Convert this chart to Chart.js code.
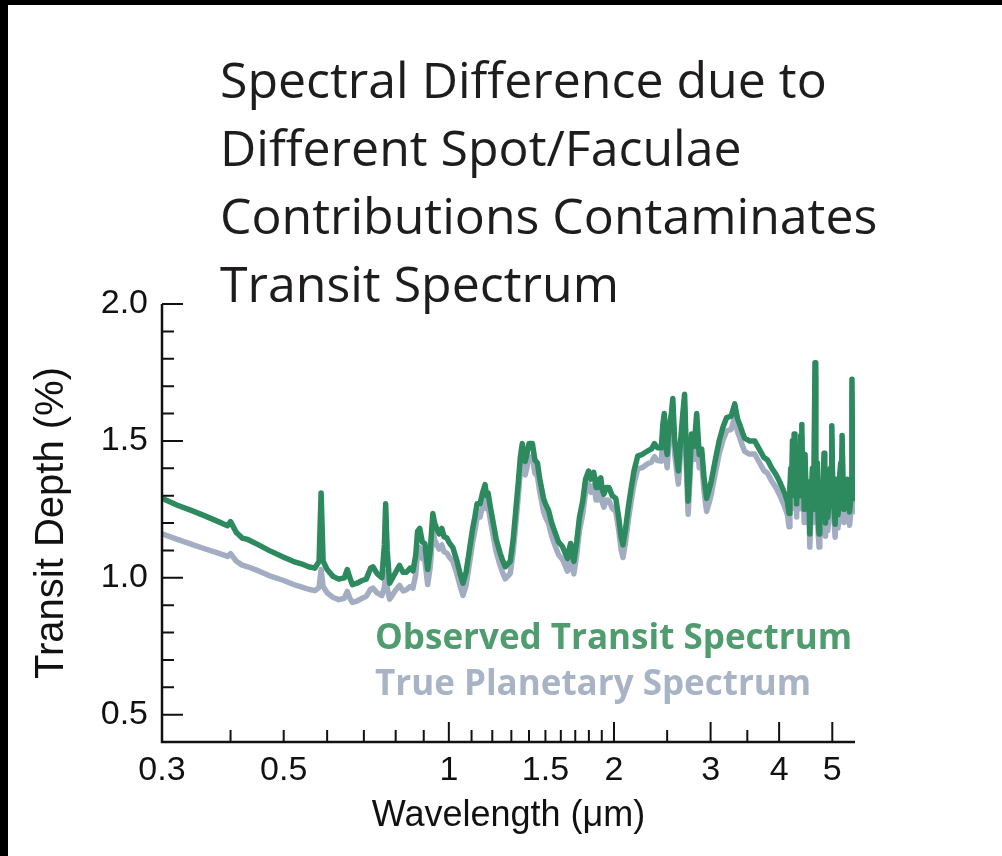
<!DOCTYPE html>
<html>
<head>
<meta charset="utf-8">
<script src="https://cdn.jsdelivr.net/npm/chart.js@4.4.1/dist/chart.umd.min.js"></script>
<style>
    html, body { margin: 0; padding: 0; background: #000; }
    .frame { position: absolute; left: 8px; top: 5px; width: 994px; height: 851px; background: #fff; }
    #chartCanvas { position: absolute; left: 0; top: 0; }
</style>
</head>
<body>
<div class="frame"></div>
<canvas id="chartCanvas" width="1002" height="856"></canvas>
<script>
// wavelength grid (micron) shared by both spectra
const wavelength = [
    0.300, 0.320, 0.340, 0.360, 0.380, 0.395, 0.400, 0.410, 0.420, 0.430,
    0.450, 0.470, 0.500, 0.520, 0.540, 0.555, 0.570, 0.580, 0.585, 0.590,
    0.600, 0.615, 0.630, 0.645, 0.653, 0.660, 0.667, 0.680, 0.695, 0.707,
    0.720, 0.727, 0.740, 0.755, 0.763, 0.767, 0.772, 0.780, 0.790, 0.800,
    0.813, 0.825, 0.837, 0.850, 0.860, 0.870, 0.877, 0.885, 0.895, 0.904,
    0.915, 0.925, 0.935, 0.942, 0.950, 0.960, 0.971, 0.980, 0.992, 1.000,
    1.017, 1.035, 1.050, 1.061, 1.075, 1.090, 1.105, 1.115, 1.126, 1.140,
    1.152, 1.164, 1.172, 1.179, 1.190, 1.205, 1.220, 1.240, 1.255, 1.267,
    1.280, 1.294, 1.310, 1.325, 1.340, 1.350, 1.361, 1.370, 1.378, 1.390,
    1.400, 1.420, 1.435, 1.450, 1.465, 1.475, 1.488, 1.500, 1.520, 1.540,
    1.565, 1.585, 1.610, 1.630, 1.645, 1.655, 1.667, 1.680, 1.690, 1.710,
    1.730, 1.754, 1.775, 1.798, 1.815, 1.837, 1.855, 1.868, 1.880, 1.892,
    1.905, 1.917, 1.935, 1.958, 1.985, 2.015, 2.040, 2.060, 2.077, 2.100,
    2.125, 2.147, 2.175, 2.210, 2.250, 2.310, 2.340, 2.370, 2.400, 2.440,
    2.455, 2.470, 2.480, 2.500, 2.520, 2.545, 2.560, 2.580, 2.620, 2.640,
    2.670, 2.690, 2.710, 2.730, 2.750, 2.770, 2.800, 2.830, 2.860, 2.890,
    2.920, 2.950, 2.980, 3.010, 3.060, 3.110, 3.160, 3.210, 3.270, 3.320,
    3.360, 3.390, 3.430, 3.460, 3.530, 3.610, 3.680, 3.750, 3.810, 3.880,
    3.940, 4.000, 4.050, 4.100,
    4.140, 4.170, 4.185, 4.200, 4.215, 4.230, 4.245, 4.260, 4.275, 4.290,
    4.305, 4.320, 4.335, 4.350, 4.365, 4.380, 4.390, 4.400, 4.415, 4.430,
    4.445, 4.460, 4.480, 4.500, 4.525, 4.550, 4.575, 4.600, 4.625, 4.650,
    4.665, 4.680, 4.695, 4.710, 4.730, 4.745, 4.760, 4.780, 4.800, 4.815,
    4.830, 4.845, 4.860, 4.875, 4.890, 4.905, 4.920, 4.940, 4.960, 4.975,
    4.990, 5.005, 5.020, 5.040, 5.060, 5.080, 5.100, 5.120, 5.140, 5.160,
    5.180, 5.195, 5.210, 5.230, 5.250, 5.275, 5.300, 5.325, 5.350, 5.375,
    5.400, 5.415, 5.430, 5.445, 5.460, 5.475, 5.490
];

// observed transit depth (%), spot/faculae contaminated
const observedDepth = [
    1.290, 1.265, 1.245, 1.225, 1.205, 1.190, 1.205, 1.165, 1.145, 1.140,
    1.120, 1.100, 1.075, 1.060, 1.050, 1.040, 1.035, 1.060, 1.310, 1.060,
    1.030, 1.005, 0.995, 1.000, 1.030, 1.000, 0.975, 0.980, 0.990, 0.995,
    1.035, 1.040, 1.015, 1.000, 1.120, 1.270, 1.100, 0.980, 1.000, 1.020,
    1.045, 1.020, 1.020, 1.035, 1.025, 1.080, 1.170, 1.180, 1.130, 1.125,
    1.030, 1.100, 1.235, 1.200, 1.180, 1.160, 1.180, 1.150, 1.145, 1.130,
    1.110, 1.060, 1.010, 0.980, 1.020, 1.100, 1.180, 1.220, 1.270, 1.270,
    1.310, 1.340, 1.300, 1.310, 1.260, 1.200, 1.140, 1.090, 1.060, 1.040,
    1.050, 1.060, 1.140, 1.250, 1.360, 1.440, 1.490, 1.440, 1.425, 1.460,
    1.490, 1.490, 1.430, 1.420, 1.360, 1.330, 1.290, 1.270, 1.245, 1.200,
    1.160, 1.130, 1.115, 1.090, 1.070, 1.100, 1.125, 1.080, 1.060, 1.130,
    1.220, 1.280, 1.360, 1.390, 1.360, 1.385, 1.330, 1.330, 1.360, 1.365,
    1.320, 1.305, 1.330, 1.330, 1.300, 1.290, 1.220, 1.150, 1.120, 1.180,
    1.260, 1.320, 1.390, 1.445, 1.450, 1.465, 1.470, 1.490, 1.475, 1.475,
    1.560, 1.600, 1.500, 1.450, 1.550, 1.600, 1.655, 1.500, 1.390, 1.480,
    1.600, 1.670, 1.450, 1.280, 1.400, 1.525, 1.480, 1.600, 1.450, 1.470,
    1.360, 1.290, 1.320, 1.355, 1.430, 1.500, 1.550, 1.585, 1.590, 1.635,
    1.580, 1.560, 1.530, 1.510, 1.500, 1.500, 1.470, 1.440, 1.430, 1.400,
    1.380, 1.355, 1.330, 1.305,
    1.280, 1.235, 1.330, 1.400, 1.300, 1.500, 1.360, 1.525, 1.330, 1.380,
    1.270, 1.460, 1.320, 1.300, 1.420, 1.520, 1.400, 1.560, 1.300, 1.340,
    1.250, 1.450, 1.300, 1.250, 1.350, 1.160, 1.300, 1.400, 1.250, 1.785,
    1.400, 1.300, 1.420, 1.220, 1.160, 1.300, 1.350, 1.220, 1.280, 1.380,
    1.455, 1.300, 1.200, 1.320, 1.360, 1.220, 1.250, 1.340, 1.400, 1.300,
    1.555, 1.380, 1.300, 1.250, 1.195, 1.360, 1.330, 1.230, 1.260, 1.380,
    1.420, 1.300, 1.520, 1.350, 1.250, 1.320, 1.290, 1.360, 1.300, 1.240,
    1.280, 1.350, 1.725, 1.400, 1.500, 1.300, 1.280
];

// true planetary transit depth (%)
const trueDepth = [
    1.160, 1.140, 1.122, 1.105, 1.090, 1.078, 1.088, 1.060, 1.046, 1.040,
    1.025, 1.008, 0.990, 0.976, 0.966, 0.958, 0.953, 0.965, 1.030, 0.968,
    0.945, 0.928, 0.920, 0.925, 0.950, 0.926, 0.910, 0.915, 0.925, 0.932,
    0.958, 0.962, 0.945, 0.935, 0.965, 1.020, 0.962, 0.922, 0.938, 0.955,
    0.972, 0.952, 0.956, 0.968, 0.962, 1.010, 1.090, 1.110, 1.070, 1.065,
    0.975, 1.040, 1.170, 1.140, 1.122, 1.105, 1.120, 1.095, 1.090, 1.078,
    1.060, 1.012, 0.965, 0.935, 0.972, 1.050, 1.130, 1.170, 1.220, 1.222,
    1.260, 1.290, 1.252, 1.262, 1.212, 1.152, 1.094, 1.045, 1.015, 0.996,
    1.005, 1.016, 1.094, 1.200, 1.310, 1.388, 1.440, 1.390, 1.376, 1.410,
    1.440, 1.442, 1.382, 1.372, 1.312, 1.282, 1.242, 1.222, 1.198, 1.152,
    1.112, 1.084, 1.068, 1.044, 1.024, 1.052, 1.078, 1.034, 1.014, 1.082,
    1.172, 1.232, 1.312, 1.342, 1.312, 1.338, 1.284, 1.284, 1.312, 1.318,
    1.274, 1.258, 1.284, 1.282, 1.254, 1.242, 1.174, 1.104, 1.074, 1.132,
    1.212, 1.272, 1.342, 1.398, 1.402, 1.418, 1.422, 1.442, 1.428, 1.426,
    1.510, 1.550, 1.452, 1.402, 1.500, 1.552, 1.605, 1.452, 1.342, 1.432,
    1.552, 1.620, 1.402, 1.232, 1.352, 1.476, 1.432, 1.552, 1.402, 1.422,
    1.312, 1.242, 1.272, 1.306, 1.382, 1.452, 1.502, 1.536, 1.542, 1.586,
    1.532, 1.512, 1.482, 1.462, 1.452, 1.452, 1.422, 1.392, 1.382, 1.352,
    1.332, 1.306, 1.282, 1.256,
    1.232, 1.186, 1.282, 1.352, 1.252, 1.452, 1.312, 1.476, 1.282, 1.332,
    1.222, 1.412, 1.272, 1.252, 1.372, 1.472, 1.352, 1.512, 1.252, 1.292,
    1.202, 1.402, 1.252, 1.202, 1.302, 1.112, 1.252, 1.352, 1.202, 1.736,
    1.352, 1.252, 1.372, 1.172, 1.112, 1.252, 1.302, 1.172, 1.232, 1.332,
    1.406, 1.252, 1.152, 1.272, 1.312, 1.172, 1.202, 1.292, 1.352, 1.252,
    1.506, 1.332, 1.252, 1.202, 1.148, 1.312, 1.282, 1.182, 1.212, 1.332,
    1.372, 1.252, 1.472, 1.302, 1.202, 1.272, 1.242, 1.312, 1.252, 1.192,
    1.232, 1.302, 1.676, 1.352, 1.452, 1.252, 1.232
];

// axes
const xTickValues = [0.3, 0.5, 1, 1.5, 2, 3, 4, 5];
const xTickLabels = ['0.3', '0.5', '1', '1.5', '2', '3', '4', '5'];
const xMajorTicks = [1, 2, 3, 4, 5];
const xMinorTicks = [0.4, 0.5, 0.6, 0.7, 0.8, 0.9, 1.1, 1.2, 1.3, 1.4, 1.5, 1.6, 1.7, 1.8, 1.9, 2.5, 3.5];
const yTickValues = [0.5, 1.0, 1.5, 2.0];
const yMinorTicks = [0.6, 0.7, 0.8, 0.9, 1.1, 1.2, 1.3, 1.4, 1.6, 1.7, 1.8, 1.9];

const titleLines = [
    'Spectral Difference due to',
    'Different Spot/Faculae',
    'Contributions Contaminates',
    'Transit Spectrum'
];
const legendLabels = ['Observed Transit Spectrum', 'True Planetary Spectrum'];

const GREEN = '#2c8a5e';
const GRAY = '#a2adc1';
const INK = '#111111';
const AXIS_FONT = 'Liberation Sans';

const toPoints = (ys) => wavelength.map((w, i) => ({ x: w, y: ys[i] }));

// inward tick marks + axis lines
const axesPlugin = {
    id: 'axesPlugin',
    afterDraw(chart) {
        const { ctx, chartArea, scales: { x, y } } = chart;
        ctx.save();
        ctx.strokeStyle = INK;
        ctx.lineWidth = 2.5;
        ctx.beginPath();
        ctx.moveTo(chartArea.left, y.getPixelForValue(2.0));
        ctx.lineTo(chartArea.left, chartArea.bottom);
        ctx.lineTo(chartArea.right, chartArea.bottom);
        ctx.stroke();

        ctx.lineWidth = 2;
        ctx.beginPath();
        yTickValues.forEach(v => {
            const py = y.getPixelForValue(v);
            ctx.moveTo(chartArea.left, py);
            ctx.lineTo(chartArea.left + 21, py);
        });
        yMinorTicks.forEach(v => {
            const py = y.getPixelForValue(v);
            ctx.moveTo(chartArea.left, py);
            ctx.lineTo(chartArea.left + 12, py);
        });
        xMajorTicks.forEach(v => {
            const px = x.getPixelForValue(v);
            ctx.moveTo(px, chartArea.bottom);
            ctx.lineTo(px, chartArea.bottom - 20);
        });
        xMinorTicks.forEach(v => {
            const px = x.getPixelForValue(v);
            ctx.moveTo(px, chartArea.bottom);
            ctx.lineTo(px, chartArea.bottom - 12);
        });
        ctx.stroke();
        ctx.restore();
    }
};

// headline and the coloured legend text
const textPlugin = {
    id: 'textPlugin',
    afterDraw(chart) {
        const ctx = chart.ctx;
        ctx.save();
        ctx.textAlign = 'left';
        ctx.textBaseline = 'alphabetic';
        ctx.fillStyle = '#1e1c1d';
        ctx.font = '50px "Open Sans"';
        titleLines.forEach((line, i) => {
            ctx.fillText(line, 220, 98 + i * 68);
        });

        ctx.font = 'bold 35px "Open Sans"';
        ctx.fillStyle = '#4f9c6e';
        ctx.fillText(legendLabels[0], 375, 649);
        ctx.fillStyle = '#a8b3c6';
        ctx.fillText(legendLabels[1], 375, 695);
        ctx.restore();
    }
};

const ctx = document.getElementById('chartCanvas').getContext('2d');
const chart = new Chart(ctx, {
    type: 'line',
    data: {
        datasets: [{
            label: legendLabels[0],
            data: toPoints(observedDepth),
            borderColor: GREEN,
            borderWidth: 5.5,
            pointRadius: 0,
            tension: 0,
            borderJoinStyle: 'round'
        }, {
            label: legendLabels[1],
            data: toPoints(trueDepth),
            borderColor: GRAY,
            borderWidth: 5.5,
            pointRadius: 0,
            tension: 0,
            borderJoinStyle: 'round'
        }]
    },
    options: {
        responsive: false,
        animation: false,
        devicePixelRatio: 1,
        layout: { padding: { top: 304, right: 147, left: 0, bottom: 0 } },
        plugins: {
            legend: { display: false },
            tooltip: { enabled: false }
        },
        scales: {
            x: {
                type: 'logarithmic',
                min: 0.3,
                max: 5.5,
                grid: { display: false, drawTicks: false },
                border: { display: false },
                afterBuildTicks: (scale) => {
                    scale.ticks = xTickValues.map(v => ({ value: v }));
                },
                afterFit: (scale) => { scale.height = 114; },
                ticks: {
                    autoSkip: false,
                    maxRotation: 0,
                    padding: 8,
                    color: INK,
                    font: { family: AXIS_FONT, size: 34 },
                    callback: (value, index) => xTickLabels[index]
                },
                title: {
                    display: true,
                    text: 'Wavelength (\u03bcm)',
                    color: INK,
                    font: { family: AXIS_FONT, size: 36 },
                    padding: { top: 0, bottom: 18 }
                }
            },
            y: {
                type: 'linear',
                min: 0.4,
                max: 2.0,
                grid: { display: false, drawTicks: false },
                border: { display: false },
                afterBuildTicks: (scale) => {
                    scale.ticks = yTickValues.map(v => ({ value: v }));
                },
                afterFit: (scale) => { scale.width = 162; },
                ticks: {
                    padding: 14,
                    color: INK,
                    font: { family: AXIS_FONT, size: 34 },
                    callback: (value) => value.toFixed(1)
                },
                title: {
                    display: true,
                    text: 'Transit Depth (%)',
                    color: INK,
                    font: { family: AXIS_FONT, size: 40 },
                    padding: { top: 28, bottom: 0 }
                }
            }
        }
    },
    plugins: [axesPlugin, textPlugin]
});
</script>
</body>
</html>
